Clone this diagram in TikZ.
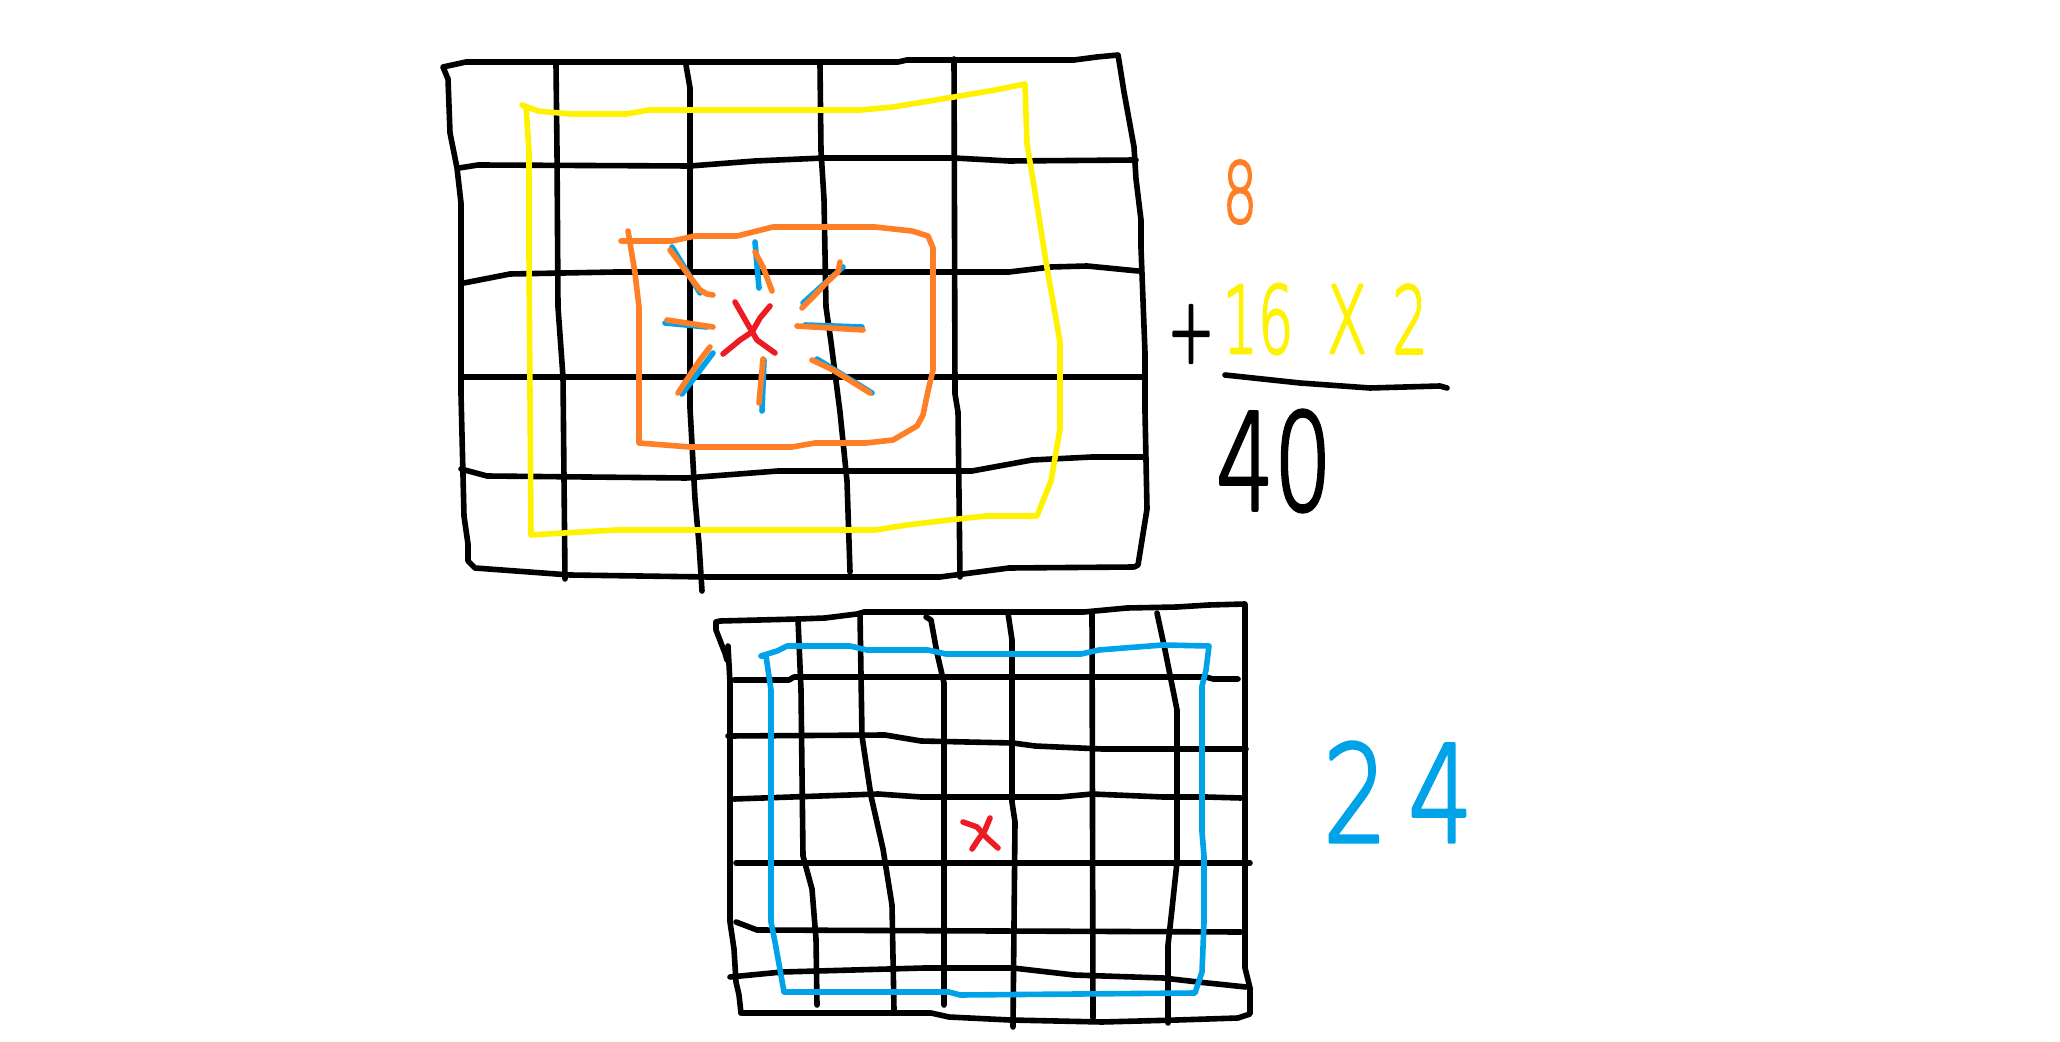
\documentclass[tikz,border=0pt]{standalone}
\usepackage{fontspec}
\usepackage{graphicx}
\newfontfamily\handfont{DejaVu Sans ExtraLight}[FakeBold=3]
\definecolor{pyellow}{HTML}{FFF200}
\definecolor{porange}{HTML}{FF7F27}
\definecolor{pblue}{HTML}{00A2E8}
\definecolor{pred}{HTML}{ED1C24}
\begin{document}
\begin{tikzpicture}[x=0.5pt,y=-0.5pt,line cap=round,line join=round,
  ink/.style={draw=black,line width=2.8pt},
  yel/.style={draw=pyellow,line width=2.8pt},
  ora/.style={draw=porange,line width=2.8pt},
  blu/.style={draw=pblue,line width=2.8pt},
  rd/.style={draw=pred,line width=2.8pt},
  hand/.style={inner sep=0pt,outer sep=0pt}]
\fill[white] (0,0) rectangle (2060,1042);
\useasboundingbox (0,0) rectangle (2060,1042);

% ---------- top grid ----------
\draw[ink] (443,67) -- (466,62) -- (898,62) -- (907,60) -- (1074,60) -- (1097,57) -- (1118,55)
  -- (1120,67) -- (1124,92) -- (1134,147) -- (1136,179) -- (1141,220) -- (1141,248) -- (1145,353)
  -- (1145,412) -- (1147,509) -- (1138,565) -- (1134,567)
  -- (1009,568) -- (940,577) -- (709,577) -- (570,575) -- (475,568)
  -- (468,561) -- (468,544) -- (464,516) -- (461,394) -- (461,203) -- (457,168) -- (450,133) -- (448,79) -- cycle;
\draw[ink] (459,168) -- (478,165) -- (690,166) -- (755,161) -- (824,158) -- (954,158) -- (1009,161) -- (1136,160);
\draw[ink] (464,283) -- (510,274) -- (616,272) -- (1009,272) -- (1051,267) -- (1087,266) -- (1138,271);
\draw[ink] (461,377) -- (1145,377);
\draw[ink] (461,469) -- (487,476) -- (686,478) -- (778,471) -- (972,471) -- (1032,460) -- (1092,457) -- (1145,457);
\draw[ink] (556,65) -- (557,151) -- (558,307) -- (563,377) -- (565,579);
\draw[ink] (686,65) -- (690,88) -- (690,408) -- (695,499) -- (699,544) -- (702,591);
\draw[ink] (820,65) -- (821,151) -- (824,199) -- (826,307) -- (831,342) -- (840,412) -- (847,481) -- (850,572);
\draw[ink] (954,59) -- (955,394) -- (958,412) -- (960,577);

% yellow ring
\draw[yel] (522,105) -- (538,111) -- (570,114) -- (626,114) -- (649,110) -- (861,110) -- (893,107)
  -- (954,97) -- (995,90) -- (1025,84) -- (1027,144) -- (1034,186) -- (1046,262) -- (1060,342)
  -- (1060,429) -- (1051,481) -- (1037,516) -- (986,516) -- (949,520) -- (907,525) -- (875,530)
  -- (616,530) -- (547,534) -- (531,535) -- (529,255) -- (529,151) -- (526,107) -- cycle;

% orange ring
\draw[ora] (621,241) -- (672,241) -- (695,236) -- (737,236) -- (773,227) -- (875,227) -- (912,231)
  -- (928,236) -- (933,248) -- (933,370) -- (928,391) -- (923,415) -- (917,426) -- (893,440)
  -- (866,443) -- (815,443) -- (792,447) -- (690,447) -- (639,443) -- (639,307) -- (635,273) -- (628,231);

% rays: blue under orange
\draw[blu] (672,247) -- (700,293);
\draw[blu] (755,242) -- (759,288);
\draw[blu] (843,267) -- (803,303);
\draw[blu] (665,323) -- (707,327);
\draw[blu] (805,325) -- (862,327);
\draw[blu] (713,353) -- (682,394);
\draw[blu] (764,360) -- (762,411);
\draw[blu] (817,359) -- (872,393);
\draw[ora] (670,250) -- (687,273) -- (700,290) -- (707,294) -- (713,295);
\draw[ora] (755,252) -- (763,267) -- (772,291);
\draw[ora] (840,262) -- (838,272) -- (827,282) -- (813,297) -- (802,308);
\draw[ora] (667,320) -- (713,327);
\draw[ora] (797,326) -- (863,330);
\draw[ora] (710,347) -- (700,360) -- (678,393);
\draw[ora] (763,359) -- (759,403);
\draw[ora] (812,360) -- (833,370) -- (870,393);

% red x (top)
\draw[rd] (735,302) -- (747,323) -- (757,340) -- (775,353);
\draw[rd] (770,306) -- (760,318) -- (752,332) -- (740,340) -- (723,354);

% ---------- bottom grid ----------
\draw[ink] (716,622) -- (720,621) -- (798,619) -- (825,618) -- (857,614) -- (864,612) -- (1084,612)
  -- (1127,608) -- (1177,607) -- (1209,605) -- (1245,604) -- (1245,968) -- (1250,988) -- (1250,1014)
  -- (1238,1018) -- (1177,1020) -- (1102,1022) -- (1010,1020) -- (949,1017) -- (931,1013) -- (741,1013);
\draw[ink] (716,622) -- (716,630) -- (721,643) -- (725,653) -- (727,660);
\draw[ink] (728,646) -- (730,683) -- (730,922) -- (734,949) -- (736,982) -- (739,995) -- (741,1013);
\draw[ink] (734,680) -- (789,680) -- (794,677) -- (1206,677) -- (1213,679) -- (1238,679);
\draw[ink] (728,736) -- (885,735) -- (921,741) -- (1013,743) -- (1035,746) -- (1102,749) -- (1156,749) -- (1246,749);
\draw[ink] (734,799) -- (878,794) -- (921,797) -- (1060,797) -- (1092,794) -- (1163,797) -- (1206,797) -- (1241,798);
\draw[ink] (736,863) -- (1250,863);
\draw[ink] (736,922) -- (757,930) -- (1241,932);
\draw[ink] (730,977) -- (782,972) -- (924,968) -- (1013,968) -- (1074,975) -- (1163,978) -- (1198,982) -- (1246,987);
\draw[ink] (798,619) -- (801,690) -- (803,856) -- (812,889) -- (816,939) -- (817,1005);
\draw[ink] (860,614) -- (862,736) -- (866,763) -- (871,796) -- (883,849) -- (892,905) -- (894,1010);
\draw[ink] (926,617) -- (931,620) -- (937,653) -- (944,683) -- (944,1005);
\draw[ink] (1008,613) -- (1012,640) -- (1012,802) -- (1015,822) -- (1013,1027);
\draw[ink] (1092,613) -- (1093,1018);
\draw[ink] (1157,613) -- (1165,650) -- (1173,690) -- (1177,710) -- (1177,862) -- (1172,909) -- (1168,945) -- (1168,1023);

% blue ring
\draw[blu] (761,656) -- (777,651) -- (787,646) -- (850,646) -- (867,650) -- (928,650) -- (946,654)
  -- (1081,654) -- (1099,650) -- (1124,648) -- (1163,645) -- (1209,646) -- (1206,670) -- (1202,686)
  -- (1202,832) -- (1204,856) -- (1204,922) -- (1202,972) -- (1195,993) -- (960,995) -- (949,992)
  -- (914,992) -- (784,992) -- (775,942) -- (771,922) -- (771,690) -- (766,656) -- cycle;

% red x (bottom)
\draw[rd] (963,822) -- (977,827) -- (987,838) -- (998,848);
\draw[rd] (990,818) -- (985,830) -- (978,840) -- (972,849);

% ---------- numbers ----------
\node[hand,text=porange,font=\handfont\fontsize{42}{42}\selectfont] (eight) at (1240,192) {\scalebox{0.64}[1]{8}};
\node[hand,text=black,font=\handfont\fontsize{46}{46}\selectfont] (plus) at (1191,334) {\scalebox{0.62}[1]{+}};
\node[hand,text=pyellow,font=\handfont\fontsize{46.5}{46.5}\selectfont] (sixteen) at (1258,319) {\scalebox{0.6}[1]{16}};
\node[hand,text=pyellow,font=\handfont\fontsize{46.5}{46.5}\selectfont] (times) at (1347,319) {\scalebox{0.63}[1]{X}};
\node[hand,text=pyellow,font=\handfont\fontsize{46.5}{46.5}\selectfont] (two) at (1410,319) {\scalebox{0.6}[1]{2}};
\coordinate (barL) at (1225,375);
\coordinate (barR) at (1447,388);
\draw[ink] (barL) -- (1300,383) -- (1370,388) -- (1440,386) -- (barR);
\node[hand,text=black,font=\handfont\fontsize{67}{67}\selectfont] (forty) at (1274,461) {\scalebox{0.68}[1]{40}};
\node[hand,text=pblue,font=\handfont\fontsize{67}{67}\selectfont] (twentyfour) at (1398,792) {\scalebox{0.76}[1]{2\kern0.2em4}};
\end{tikzpicture}
\end{document}
